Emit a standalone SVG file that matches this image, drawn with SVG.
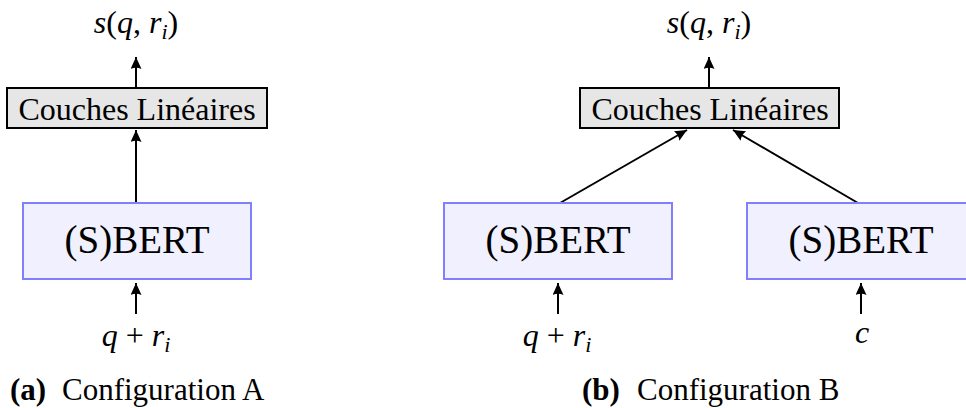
<svg xmlns="http://www.w3.org/2000/svg" width="966" height="408" viewBox="0 0 966 408">
<defs>
<marker id="ah" markerUnits="userSpaceOnUse" markerWidth="13" markerHeight="12" refX="12" refY="5.5" orient="auto">
<path d="M0,0 L12,5.5 L0,11 Q2.5,5.5 0,0 z" fill="#000"/>
</marker>
<style>
text { font-family: 'Liberation Serif', 'DejaVu Serif', serif; fill: #000; }
.lbl { font-size: 32px; text-anchor: middle; }
.lin { fill: #e6e6e6; stroke: #000; stroke-width: 2; }
.bert { fill: #f0f0ff; stroke: #8080ff; stroke-width: 2; }
.btxt { font-size: 39px; text-anchor: middle; }
.ltxt { font-size: 32px; text-anchor: middle; }
.edge { stroke: #000; stroke-width: 2; fill: none; marker-end: url(#ah); }
.it { font-style: italic; }
.cap { font-size: 31px; }
.bold { font-weight: bold; }
</style>
</defs>

<g id="connectors">
<line class="edge" x1="136" y1="88" x2="136" y2="57"/>
<line class="edge" x1="136" y1="203" x2="136" y2="130"/>
<line class="edge" x1="136" y1="314" x2="136" y2="283"/>
<line class="edge" x1="709" y1="88" x2="709" y2="57"/>
<line class="edge" x1="560" y1="203" x2="687" y2="130"/>
<line class="edge" x1="858" y1="203" x2="733" y2="130"/>
<line class="edge" x1="558" y1="314" x2="558" y2="283"/>
<line class="edge" x1="861" y1="314" x2="861" y2="283"/>
</g>

<g id="a-output">
<text class="lbl" x="136" y="33"><tspan class="it">s</tspan>(<tspan class="it">q</tspan>, <tspan class="it">r</tspan><tspan class="it" dy="6" font-size="22">i</tspan><tspan dy="-6">)</tspan></text>
</g>
<g id="a-lineaires">
<rect class="lin" x="7" y="88" width="260" height="40"/>
<text class="ltxt" x="137" y="120">Couches Linéaires</text>
</g>
<g id="a-bert">
<rect class="bert" x="23" y="203" width="228" height="76"/>
<text class="btxt" x="137" y="253">(S)BERT</text>
</g>
<g id="a-input">
<text class="lbl" x="136" y="346"><tspan class="it">q</tspan> + <tspan class="it">r</tspan><tspan class="it" dy="6" font-size="22">i</tspan></text>
</g>
<g id="a-caption">
<text class="cap" x="10" y="400"><tspan class="bold">(a)</tspan><tspan x="62">Configuration A</tspan></text>
</g>

<g id="b-output">
<text class="lbl" x="709" y="33"><tspan class="it">s</tspan>(<tspan class="it">q</tspan>, <tspan class="it">r</tspan><tspan class="it" dy="6" font-size="22">i</tspan><tspan dy="-6">)</tspan></text>
</g>
<g id="b-lineaires">
<rect class="lin" x="580" y="88" width="259" height="40"/>
<text class="ltxt" x="710" y="120">Couches Linéaires</text>
</g>
<g id="b-bert1">
<rect class="bert" x="444" y="203" width="228" height="76"/>
<text class="btxt" x="558" y="253">(S)BERT</text>
</g>
<g id="b-bert2">
<rect class="bert" x="747" y="203" width="228" height="76"/>
<text class="btxt" x="861" y="253">(S)BERT</text>
</g>
<g id="b-input1">
<text class="lbl" x="557" y="346"><tspan class="it">q</tspan> + <tspan class="it">r</tspan><tspan class="it" dy="6" font-size="22">i</tspan></text>
</g>
<g id="b-input2">
<text class="lbl" x="862" y="343"><tspan class="it">c</tspan></text>
</g>
<g id="b-caption">
<text class="cap" x="582" y="400"><tspan class="bold">(b)</tspan><tspan x="637">Configuration B</tspan></text>
</g>
</svg>
